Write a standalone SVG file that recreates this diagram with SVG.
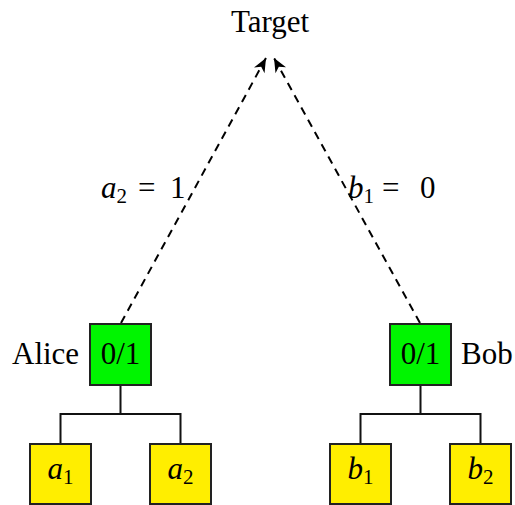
<svg xmlns="http://www.w3.org/2000/svg" width="515" height="505" viewBox="0 0 515 505">
<style>
.box{stroke:#222;stroke-width:2}
.g{fill:#00F500}
.y{fill:#FFEE00}
.tree{stroke:#111;stroke-width:2;fill:none}
.dash{stroke:#000;stroke-width:2;fill:none;stroke-dasharray:8 6}
</style>
<defs>
<marker id="ah" markerUnits="userSpaceOnUse" markerWidth="20" markerHeight="20" refX="15" refY="7" orient="auto">
<path d="M15,7 L1,1 L5,7 L1,13 Z" fill="#000"/>
</marker>
</defs>
<rect width="515" height="505" fill="#fff"/>
<g id="connectors">
<path class="tree" d="M120.5,385V414M60.5,414H180.5M60.5,413V444M180.5,413V444"/>
<path class="tree" d="M420.5,385V414M360.5,414H480.5M360.5,413V444M480.5,413V444"/>
<path class="dash" d="M121,323L266,58" marker-end="url(#ah)"/>
<path class="dash" d="M420,323L274,58" marker-end="url(#ah)"/>
<text font-family="Liberation Serif" font-size="31" y="198"><tspan x="101" font-style="italic">a</tspan><tspan font-size="21" dy="5">2</tspan><tspan x="138" dy="-5">=</tspan><tspan x="170">1</tspan></text>
<text font-family="Liberation Serif" font-size="31" y="198"><tspan x="348" font-style="italic">b</tspan><tspan font-size="21" dy="5">1</tspan><tspan x="382" dy="-5">=</tspan><tspan x="420">0</tspan></text>
</g>
<g id="target">
<text font-family="Liberation Serif" font-size="31" x="270" y="32" text-anchor="middle">Target</text>
</g>
<g id="alice">
<rect class="box g" x="90" y="324" width="61" height="61"/>
<text font-family="Liberation Serif" font-size="31" x="120.5" y="364" text-anchor="middle">0/1</text>
<text font-family="Liberation Serif" font-size="31" x="12" y="364">Alice</text>
</g>
<g id="bob">
<rect class="box g" x="390" y="324" width="61" height="61"/>
<text font-family="Liberation Serif" font-size="31" x="420.5" y="364" text-anchor="middle">0/1</text>
<text font-family="Liberation Serif" font-size="31" x="461" y="364">Bob</text>
</g>
<g id="a1">
<rect class="box y" x="30" y="444" width="61" height="60"/>
<text font-family="Liberation Serif" font-size="31" x="60.5" y="479" text-anchor="middle"><tspan font-style="italic">a</tspan><tspan font-size="21" dy="5">1</tspan></text>
</g>
<g id="a2">
<rect class="box y" x="150" y="444" width="61" height="60"/>
<text font-family="Liberation Serif" font-size="31" x="180.5" y="479" text-anchor="middle"><tspan font-style="italic">a</tspan><tspan font-size="21" dy="5">2</tspan></text>
</g>
<g id="b1">
<rect class="box y" x="330" y="444" width="61" height="60"/>
<text font-family="Liberation Serif" font-size="31" x="360.5" y="479" text-anchor="middle"><tspan font-style="italic">b</tspan><tspan font-size="21" dy="5">1</tspan></text>
</g>
<g id="b2">
<rect class="box y" x="450" y="444" width="61" height="60"/>
<text font-family="Liberation Serif" font-size="31" x="480.5" y="479" text-anchor="middle"><tspan font-style="italic">b</tspan><tspan font-size="21" dy="5">2</tspan></text>
</g>
</svg>
